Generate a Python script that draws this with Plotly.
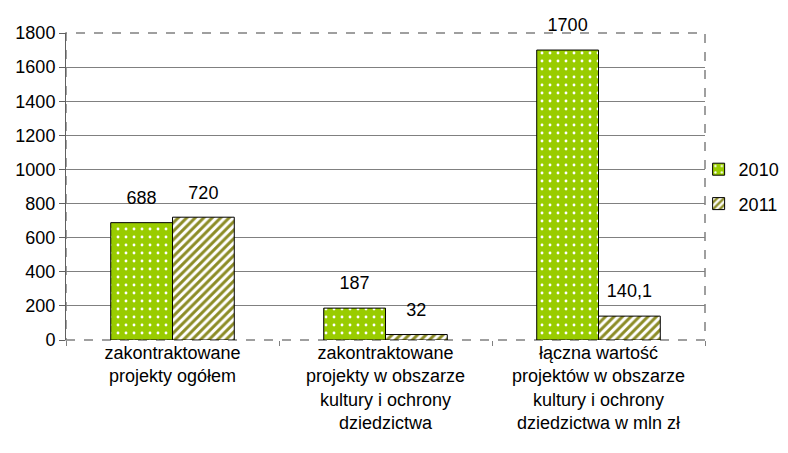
import plotly.graph_objects as go

# Dane
kategorie = [
    'zakontraktowane<br>projekty ogółem',
    'zakontraktowane<br>projekty w obszarze<br>kultury i ochrony<br>dziedzictwa',
    'łączna wartość<br>projektów w obszarze<br>kultury i ochrony<br>dziedzictwa w mln zł',
]
wartosci_2010 = [688, 187, 1700]
wartosci_2011 = [720, 32, 140.1]
etykiety_2010 = ['688', '187', '1700']
etykiety_2011 = ['720', '32', '140,1']
y_ticks = [0, 200, 400, 600, 800, 1000, 1200, 1400, 1600, 1800]

FONT = 'Liberation Sans, Arial, sans-serif'

fig = go.Figure()
fig.add_trace(go.Bar(
    x=kategorie, y=wartosci_2010, name='2010', legendgroup='a', offsetgroup='a',
    marker=dict(
        color='#99CC00',
        line=dict(color='black', width=1),
        pattern=dict(shape='.', fgcolor='white', bgcolor='#99CC00',
                     size=8, solidity=0.1, fillmode='replace'),
    ),
))
fig.add_trace(go.Bar(
    x=kategorie, y=wartosci_2011, name='2011', legendgroup='b', offsetgroup='b',
    marker=dict(
        color='#8C8C26',
        line=dict(color='black', width=1),
        pattern=dict(shape='/', fgcolor='#8C8C26', bgcolor='white',
                     size=6, solidity=0.5, fillmode='replace'),
    ),
))

# etykiety wartości nad słupkami (niewidoczne punkty wyrównane do grup)
for wart, ety, grp in [(wartosci_2010, etykiety_2010, 'a'), (wartosci_2011, etykiety_2011, 'b')]:
    fig.add_trace(go.Scatter(
        x=kategorie, y=wart, text=ety, mode='markers+text',
        offsetgroup=grp, textposition='top center', cliponaxis=False,
        marker=dict(size=21, opacity=0), textfont=dict(size=18, color='black'),
        showlegend=False, hoverinfo='skip',
    ))

# ramka przerywana (góra, prawo, dół)
fig.add_shape(type='rect', xref='paper', yref='paper', x0=0, x1=1, y0=0, y1=1,
              line=dict(color='#808080', width=1.5, dash='dash'), layer='below')

# strona ma margines 8 px, więc marginesy są przesunięte
fig.update_layout(
    width=788, height=453,
    margin=dict(l=58, r=91, t=25, b=121, autoexpand=False),
    paper_bgcolor='white', plot_bgcolor='white',
    font=dict(family=FONT, size=18, color='black'),
    barmode='group', bargap=0.42, bargroupgap=0,
    scattermode='group', scattergap=0.42,
    showlegend=True,
    legend=dict(x=0.99, y=0.5, xanchor='left', yanchor='middle',
                font=dict(size=18), bgcolor='rgba(0,0,0,0)',
                tracegroupgap=8, itemwidth=30),
    xaxis=dict(
        showline=False, ticks='outside', tickson='boundaries',
        ticklen=5, tickcolor='#808080', tickangle=0,
        tickfont=dict(size=18),
    ),
    yaxis=dict(
        range=[0, 1800], tickvals=y_ticks,
        showgrid=True, gridcolor='#808080', gridwidth=1,
        showline=True, linecolor='#606060', linewidth=1,
        ticks='outside', ticklen=6, tickcolor='#606060',
        tickfont=dict(size=18), zeroline=False,
    ),
)

fig.write_html('out.html')
